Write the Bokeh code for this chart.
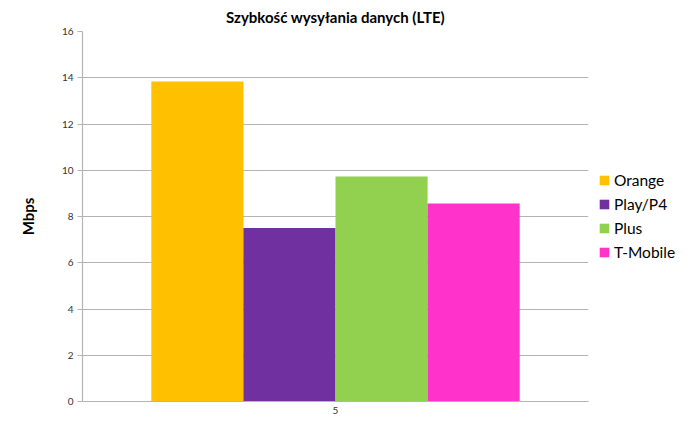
from bokeh.core.properties import value
from bokeh.embed import file_html
from bokeh.models import (ColumnDataSource, FactorRange, Legend, LegendItem,
                          Range1d, Title)
from bokeh.plotting import figure
from bokeh.resources import INLINE
from bokeh.transform import dodge

# data
operators = ["Orange", "Play/P4", "Plus", "T-Mobile"]
upload_mbps = [13.84, 7.5, 9.73, 8.56]
colors = ["#FFC000", "#7030A0", "#92D050", "#FF33CC"]
categories = ["5"]
y_ticks = [0, 2, 4, 6, 8, 10, 12, 14, 16]

FONT = "Lato"
GRID = "#B4B4B4"


def plot():
    p = figure(x_range=FactorRange(*categories),
               y_range=Range1d(0, 16),
               frame_width=506, frame_height=370,
               min_border_left=82, min_border_right=108,
               min_border_top=31, min_border_bottom=36,
               output_backend="svg", toolbar_location=None,
               background_fill_color="white", border_fill_color="white",
               outline_line_color=None)

    title = Title(text="Szybkość wysyłania danych (LTE)", align="center",
                  text_font=FONT, text_font_size="15px",
                  text_font_style="bold", text_color="#000000",
                  offset=15, standoff=11)
    p.add_layout(title, "above")

    bar_width = 0.182
    items = []
    for i, (name, val, col) in enumerate(zip(operators, upload_mbps, colors)):
        src = ColumnDataSource(dict(x=categories, top=[val]))
        r = p.vbar(x=dodge("x", (i - 1.5) * bar_width, range=p.x_range),
                   top="top", width=bar_width, source=src,
                   fill_color=col, line_color=None)
        items.append(LegendItem(label=name, renderers=[r]))

    legend = Legend(items=items, location="center_left",
                    border_line_color=None, background_fill_alpha=0,
                    glyph_width=12, glyph_height=12, label_standoff=4,
                    spacing=6, padding=10, margin=10,
                    label_text_font=FONT, label_text_font_size="15.5px",
                    label_text_color="#000000")
    p.add_layout(legend, "right")

    p.xgrid.grid_line_color = None
    p.ygrid.grid_line_color = GRID
    p.ygrid.grid_line_width = 1.2
    p.yaxis.ticker = y_ticks

    p.yaxis.axis_label = "Mbps"
    p.yaxis.axis_label_text_font = FONT
    p.yaxis.axis_label_text_font_size = "15px"
    p.yaxis.axis_label_text_font_style = "bold"
    p.yaxis.axis_label_text_color = "#000000"
    p.yaxis.axis_label_standoff = 22

    for ax in (p.xaxis, p.yaxis):
        ax.axis_line_color = GRID
        ax.axis_line_width = 1.2
        ax.major_label_text_font = FONT
        ax.major_label_text_font_size = "10px"
        ax.major_label_text_color = "#333333"
        ax.minor_tick_line_color = None

    p.yaxis.major_tick_line_color = GRID
    p.yaxis.major_tick_out = 5
    p.yaxis.major_tick_in = 0
    p.yaxis.major_label_standoff = 4
    p.xaxis.major_tick_line_color = None
    p.xaxis.major_tick_out = 0
    p.xaxis.major_tick_in = 0
    p.xaxis.major_label_standoff = 5

    open("out.html", "w").write(file_html(p, INLINE))


plot()
